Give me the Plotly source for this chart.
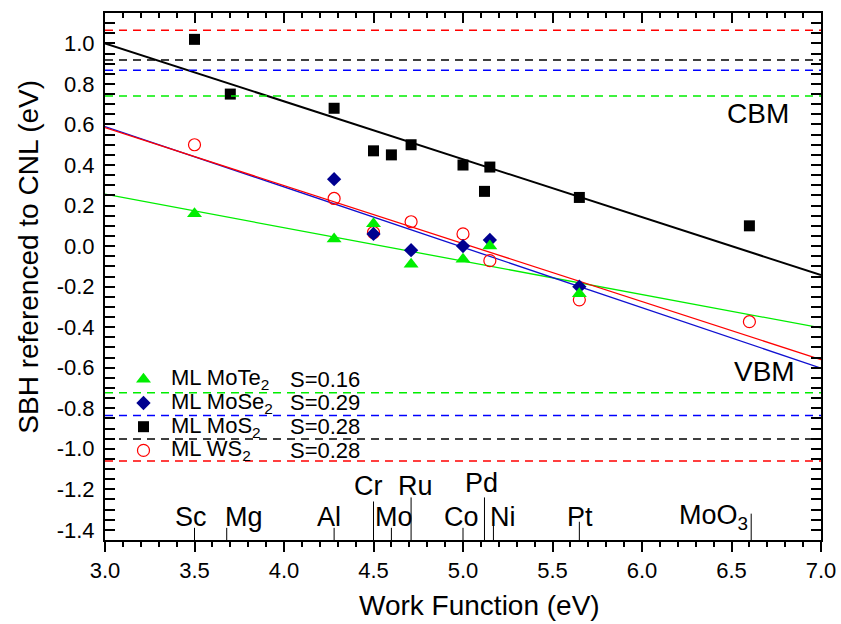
import plotly.graph_objects as go

# ---------------- data ----------------
# ML MoS2 (black squares)
mos2_wf = [3.50, 3.70, 4.28, 4.50, 4.60, 4.71, 5.00, 5.12, 5.15, 5.65, 6.60]
mos2_sbh = [1.02, 0.75, 0.68, 0.47, 0.45, 0.50, 0.40, 0.27, 0.39, 0.24, 0.10]
# ML MoSe2 (navy diamonds)
mose2_wf = [4.28, 4.50, 4.71, 5.00, 5.15, 5.65]
mose2_sbh = [0.33, 0.06, -0.02, 0.00, 0.03, -0.20]
# ML MoTe2 (green triangles)
mote2_wf = [3.50, 4.28, 4.50, 4.71, 5.00, 5.15, 5.65]
mote2_sbh = [0.16, 0.035, 0.11, -0.09, -0.065, 0.00, -0.235]
# ML WS2 (red open circles)
ws2_wf = [3.50, 4.28, 4.50, 4.71, 5.00, 5.15, 5.65, 6.60]
ws2_sbh = [0.50, 0.235, 0.067, 0.12, 0.06, -0.072, -0.265, -0.373]

# linear fits (values at x = 3.0 and x = 7.0)
fit_x = [3.0, 7.0]
fit_mos2 = [1.00, -0.143]
fit_mose2 = [0.59, -0.602]
fit_mote2 = [0.256, -0.404]
fit_ws2 = [0.585, -0.56]

# CBM / VBM levels referenced to CNL
level_x = [3.0, 7.0]
cbm_ws2, vbm_ws2 = 1.065, -1.06
cbm_mos2, vbm_mos2 = 0.918, -0.952
cbm_mose2, vbm_mose2 = 0.868, -0.836
cbm_mote2, vbm_mote2 = 0.740, -0.724

# metal work functions for the label ticks
metal_names = ["Sc", "Mg", "Al", "Cr", "Mo", "Ru", "Co", "Pd", "Ni", "Pt", "MoO<sub>3</sub>"]
metal_wf = [3.50, 3.68, 4.28, 4.50, 4.60, 4.71, 5.00, 5.12, 5.17, 5.65, 6.61]

legend_names = ["ML MoTe<sub>2</sub>", "ML MoSe<sub>2</sub>", "ML MoS<sub>2</sub>", "ML WS<sub>2</sub>"]
legend_s = ["S=0.16", "S=0.29", "S=0.28", "S=0.28"]

x_ticks = [3.0, 3.5, 4.0, 4.5, 5.0, 5.5, 6.0, 6.5, 7.0]
y_ticks = [-1.4, -1.2, -1.0, -0.8, -0.6, -0.4, -0.2, 0.0, 0.2, 0.4, 0.6, 0.8, 1.0]

# ---------------- styles / layout constants ----------------
FONT = "Arial, Liberation Sans, sans-serif"
GREEN, NAVY, RED, BLUE = "#00ee00", "#000090", "#ff0000", "#0000ff"
X_RANGE = [3.0, 7.0]
Y_RANGE = [-1.45, 1.15]

# metal label placement (layout): line top, label x, label y
metal_line_top = [-1.39, -1.39, -1.39, -1.26, -1.39, -1.24, -1.39, -1.24, -1.36, -1.36, -1.32]
metal_label_x = [3.483, 3.774, 4.249, 4.472, 4.615, 4.735, 4.989, 5.106, 5.226, 5.656, 6.40]
metal_label_y = [-1.335, -1.335, -1.335, -1.185, -1.335, -1.185, -1.335, -1.17, -1.335, -1.335, -1.335]

LEG_SYM_X = 3.215
LEG_TXT_X = 3.355
LEG_S_X = 4.025
LEG_Y0 = -0.657
LEG_DY = -0.117

fig = go.Figure()

# dashed band-edge levels (drawn on the top x axis, same range)
levels = [(cbm_ws2, vbm_ws2, RED), (cbm_mos2, vbm_mos2, "black"),
          (cbm_mose2, vbm_mose2, BLUE), (cbm_mote2, vbm_mote2, GREEN)]
for cbm, vbm, col in levels:
    for lv in (cbm, vbm):
        fig.add_trace(go.Scatter(x=level_x, y=[lv, lv], mode="lines", xaxis="x2",
                                 line=dict(color=col, width=1.5, dash="8px,6px"),
                                 showlegend=False, hoverinfo="skip"))

# fit lines
fig.add_trace(go.Scatter(x=fit_x, y=fit_mote2, mode="lines", line=dict(color=GREEN, width=1.3), showlegend=False))
fig.add_trace(go.Scatter(x=fit_x, y=fit_mose2, mode="lines", line=dict(color="#1010d0", width=1.3), showlegend=False))
fig.add_trace(go.Scatter(x=fit_x, y=fit_ws2, mode="lines", line=dict(color=RED, width=1.3), showlegend=False))
fig.add_trace(go.Scatter(x=fit_x, y=fit_mos2, mode="lines", line=dict(color="black", width=2), showlegend=False))

m_mos2 = dict(symbol="square", size=11, color="black", line=dict(width=0))
m_ws2 = dict(symbol="circle-open", size=12, color=RED, line=dict(width=1.2, color=RED))
m_mose2 = dict(symbol="diamond", size=11, color=NAVY, line=dict(width=0))
m_mote2 = dict(symbol="triangle-up", size=13, color=GREEN, line=dict(width=0))

fig.add_trace(go.Scatter(x=mos2_wf, y=mos2_sbh, mode="markers", marker=m_mos2, showlegend=False))
fig.add_trace(go.Scatter(x=ws2_wf, y=ws2_sbh, mode="markers", marker=m_ws2, showlegend=False))
fig.add_trace(go.Scatter(x=mose2_wf, y=mose2_sbh, mode="markers", marker=m_mose2, showlegend=False))
fig.add_trace(go.Scatter(x=mote2_wf, y=mote2_sbh, mode="markers", marker=m_mote2, showlegend=False))

# custom legend
leg_markers = [m_mote2, m_mose2, m_mos2, m_ws2]
for i, (mk, nm, s) in enumerate(zip(leg_markers, legend_names, legend_s)):
    yy = LEG_Y0 + i * LEG_DY
    fig.add_trace(go.Scatter(x=[LEG_SYM_X], y=[yy], mode="markers", marker=mk,
                             showlegend=False, hoverinfo="skip"))
    fig.add_annotation(x=LEG_TXT_X, y=yy, text=nm, showarrow=False, xanchor="left",
                       yanchor="middle", font=dict(size=22, family=FONT, color="black"))
    fig.add_annotation(x=LEG_S_X, y=yy, text=s, showarrow=False, xanchor="left",
                       yanchor="middle", font=dict(size=22, family=FONT, color="black"))

# metal ticks + labels
for nm, wf, top, lx, ly in zip(metal_names, metal_wf, metal_line_top, metal_label_x, metal_label_y):
    fig.add_shape(type="line", x0=wf, x1=wf, y0=Y_RANGE[0], y1=top, xref="x", yref="y",
                  line=dict(color="black", width=1))
    fig.add_annotation(x=lx, y=ly, text=nm, showarrow=False, xanchor="center", yanchor="middle",
                       font=dict(size=27, family=FONT, color="black"))

fig.add_annotation(x=6.648, y=0.653, text="CBM", showarrow=False, font=dict(size=28, family=FONT, color="black"))
fig.add_annotation(x=6.684, y=-0.619, text="VBM", showarrow=False, font=dict(size=28, family=FONT, color="black"))

# axis titles
fig.add_annotation(xref="paper", yref="paper", x=0.5234, y=-0.125, text="Work Function (eV)",
                   showarrow=False, xanchor="center", yanchor="middle",
                   font=dict(size=28, family=FONT, color="black"))
fig.add_annotation(xref="paper", yref="paper", x=-0.108, y=0.537, text="SBH referenced to CNL (eV)",
                   textangle=-90, showarrow=False, xanchor="center", yanchor="middle",
                   font=dict(size=28, family=FONT, color="black"))

axis_common = dict(showgrid=False, zeroline=False, showline=True, linecolor="black", linewidth=2,
                   tickcolor="black", tickwidth=2, ticklen=10, automargin=False,
                   tickfont=dict(size=22, family=FONT, color="black"))

fig.update_layout(
    width=841, height=624,
    margin=dict(l=105, r=20, t=13, b=84, autoexpand=False),
    paper_bgcolor="white", plot_bgcolor="white",
    showlegend=False,
    xaxis=dict(range=X_RANGE, ticks="outside", tickvals=x_ticks,
               ticktext=[f"{v:.1f}" for v in x_ticks],
               minor=dict(dtick=0.1, tick0=3.0, ticklen=5, tickwidth=2, tickcolor="black", ticks="outside"),
               **axis_common),
    xaxis2=dict(range=X_RANGE, overlaying="x", side="top", ticks="inside", tickvals=x_ticks,
                showticklabels=False,
                minor=dict(dtick=0.1, tick0=3.0, ticklen=5, tickwidth=2, tickcolor="black", ticks="inside"),
                **axis_common),
    yaxis=dict(range=Y_RANGE, ticks="inside", mirror="allticks", tickvals=y_ticks,
               ticktext=[f"{v:.1f}" for v in y_ticks], ticklabelstandoff=4,
               minor=dict(dtick=0.05, tick0=0, ticklen=5, tickwidth=2, tickcolor="black", ticks="inside"),
               **axis_common),
)

fig.write_html("out.html")
